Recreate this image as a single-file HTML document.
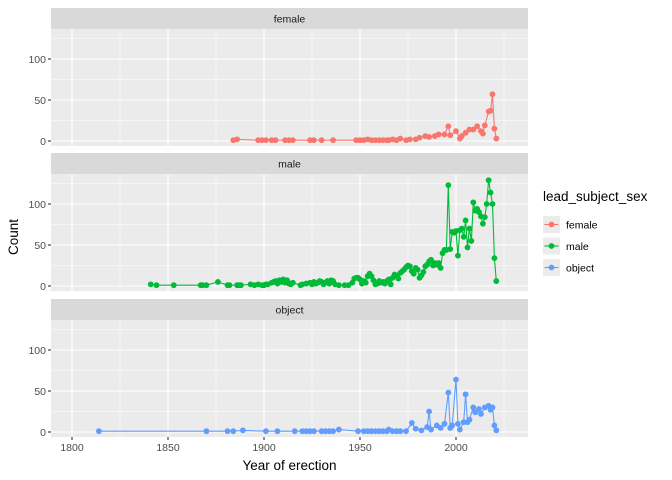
<!DOCTYPE html>
<html><head><meta charset="utf-8"><style>
body{margin:0;background:#fff}
svg{display:block;font-family:"Liberation Sans",Arial,sans-serif}
</style></head><body>
<svg id="chart" width="672" height="480" viewBox="0 0 672 480" xmlns="http://www.w3.org/2000/svg"></svg>
<script>
const facetNames=["female","male","object"];
const seriesColors=["#F8766D","#00BA38","#619CFF"];
const xTicks=[1800,1850,1900,1950,2000];
const yTicks=[0,50,100];
const femaleYears=[1884,1886,1897,1899,1901,1904,1906,1911,1913,1915,1924,1926,1930,1936,1948,1950,1952,1954,1956,1958,1960,1962,1964,1965,1967,1969,1971,1974,1976,1979,1981,1984,1986,1989,1991,1994,1996,1997,2000,2002,2003,2005,2007,2009,2011,2013,2014,2015,2017,2018,2019,2020,2021];
const femaleCounts=[1,2,1,1,1,1,1,1,1,1,1,1,1,1,1,1,1,2,1,1,1,1,1,1,2,1,3,1,2,2,4,6,5,6,8,8,18,7,12,3,6,10,14,14,18,12,9,19,36,37,57,15,3];
const maleYears=[1841,1844,1853,1867,1868,1870,1876,1881,1882,1886,1887,1888,1893,1895,1897,1899,1900,1901,1902,1904,1905,1906,1907,1908,1909,1910,1911,1912,1913,1914,1915,1919,1920,1922,1924,1925,1926,1927,1928,1929,1930,1931,1932,1933,1934,1935,1936,1937,1939,1942,1944,1946,1947,1948,1949,1950,1951,1952,1953,1954,1955,1956,1957,1958,1959,1960,1961,1962,1963,1964,1965,1966,1967,1968,1969,1970,1971,1972,1973,1974,1975,1976,1977,1978,1979,1980,1981,1982,1983,1984,1985,1986,1987,1988,1989,1990,1991,1992,1993,1994,1995,1996,1997,1998,1999,2000,2001,2002,2003,2004,2005,2006,2007,2008,2009,2010,2011,2012,2013,2014,2015,2016,2017,2018,2019,2020,2021];
const maleCounts=[2,1,1,1,1,1,5,1,1,1,1,1,2,1,2,1,1,2,2,4,5,6,3,7,5,8,4,7,3,2,4,1,2,3,4,2,5,3,4,6,5,2,4,6,3,7,6,2,1,1,1,4,9,10,10,8,3,6,4,12,15,12,7,2,3,6,4,5,3,6,8,2,10,14,13,9,16,18,20,23,25,24,18,15,22,20,10,13,17,24,26,30,32,25,28,26,28,22,40,44,44,123,45,66,65,67,37,68,70,60,80,47,70,55,102,92,94,90,85,76,84,100,129,114,100,34,6];
const objectYears=[1814,1870,1881,1884,1889,1901,1907,1916,1920,1922,1924,1926,1930,1932,1934,1936,1939,1949,1952,1954,1956,1958,1960,1962,1964,1965,1967,1969,1971,1974,1977,1979,1982,1985,1986,1987,1990,1992,1994,1996,1997,1998,2000,2001,2002,2004,2005,2006,2007,2009,2010,2012,2013,2015,2017,2018,2019,2020,2021];
const objectCounts=[1,1,1,1,2,1,1,1,1,1,1,1,1,1,1,1,3,1,1,1,1,1,1,1,1,3,1,1,1,1,11,4,2,6,25,3,8,5,10,48,5,8,64,10,3,12,46,12,15,30,24,28,22,30,32,27,30,8,2];
const allYears=[femaleYears,maleYears,objectYears];
const allCounts=[femaleCounts,maleCounts,objectCounts];

const NS="http://www.w3.org/2000/svg";
const svg=document.getElementById("chart");
const PL=51,PR=528;
const stripTops=[8,153,299];
function xs(y){return 72+(y-1800)*1.92;}
function ys(i,v){return stripTops[i]+133-v*0.82;}
function mk(tag,attrs,parent){const e=document.createElementNS(NS,tag);for(const k in attrs)e.setAttribute(k,attrs[k]);(parent||svg).appendChild(e);return e;}

facetNames.forEach((name,i)=>{
  const st=stripTops[i], pt=st+21, pb=st+138;
  const g=mk("g",{});
  
  
  const strip=mk("rect",{x:PL,y:st,width:PR-PL,height:21,fill:"#D9D9D9"},g);
  
  
  const sl=mk("text",{x:(PL+PR)/2,y:st+14.5,"text-anchor":"middle","font-size":"10.5",fill:"#1A1A1A"},g);
  sl.textContent=name;
  
  
  const bg=mk("rect",{x:PL,y:pt,width:PR-PL,height:pb-pt,fill:"#EBEBEB"},g);
  
  
  [25,75,125].forEach(v=>mk("line",{x1:PL,x2:PR,y1:ys(i,v),y2:ys(i,v),stroke:"#fff","stroke-width":0.55},g));
  [1825,1875,1925,1975,2025].forEach(v=>mk("line",{x1:xs(v),x2:xs(v),y1:pt,y2:pb,stroke:"#fff","stroke-width":0.55},g));
  yTicks.forEach(v=>{
    mk("line",{x1:PL,x2:PR,y1:ys(i,v),y2:ys(i,v),stroke:"#fff","stroke-width":1.1},g);
    mk("line",{x1:PL-3,x2:PL,y1:ys(i,v),y2:ys(i,v),stroke:"#333","stroke-width":1.1},g);
    const t=mk("text",{x:PL-5,y:ys(i,v)+3.8,"text-anchor":"end","font-size":"10.5",fill:"#4D4D4D"},g);
    t.textContent=v;
    
    
  });
  xTicks.forEach(v=>mk("line",{x1:xs(v),x2:xs(v),y1:pt,y2:pb,stroke:"#fff","stroke-width":1.1},g));
  const yrs=allYears[i], cs=allCounts[i];
  const pts=yrs.map((y,k)=>xs(y).toFixed(1)+","+ys(i,cs[k]).toFixed(1)).join(" ");
  const line=mk("polyline",{points:pts,fill:"none",stroke:seriesColors[i],"stroke-width":1.1},g);
  
  
  yrs.forEach((y,k)=>{
    const c=mk("circle",{cx:xs(y),cy:ys(i,cs[k]),r:2.9,fill:seriesColors[i]},g);
    
    
  });
});
xTicks.forEach(v=>{
  mk("line",{x1:xs(v),x2:xs(v),y1:437,y2:440,stroke:"#333","stroke-width":1.1});
  const t=mk("text",{x:xs(v),y:451,"text-anchor":"middle","font-size":"10.5",fill:"#4D4D4D"});
  t.textContent=v;
  
  
});
const xt=mk("text",{x:(PL+PR)/2,y:470,"text-anchor":"middle","font-size":"13.5",fill:"#000"});
xt.textContent="Year of erection";


const yt=mk("text",{x:0,y:0,"text-anchor":"middle","font-size":"13.5",fill:"#000",transform:"translate(18,237) rotate(-90)"});
yt.textContent="Count";


const lt=mk("text",{x:543,y:201,"font-size":"13.5",fill:"#000"});
lt.textContent="lead_subject_sex";


facetNames.forEach((name,i)=>{
  const ky=216+i*21.5;
  const lg=mk("g",{});
  
  
  mk("rect",{x:543,y:ky,width:17,height:17,fill:"#EBEBEB"},lg);
  mk("line",{x1:544.5,x2:558.5,y1:ky+8.5,y2:ky+8.5,stroke:seriesColors[i],"stroke-width":1.1},lg);
  mk("circle",{cx:551.5,cy:ky+8.5,r:2.9,fill:seriesColors[i]},lg);
  const t=mk("text",{x:566,y:ky+12.5,"font-size":"10.5",fill:"#000"},lg);
  t.textContent=name;
});
</script>
</body></html>
